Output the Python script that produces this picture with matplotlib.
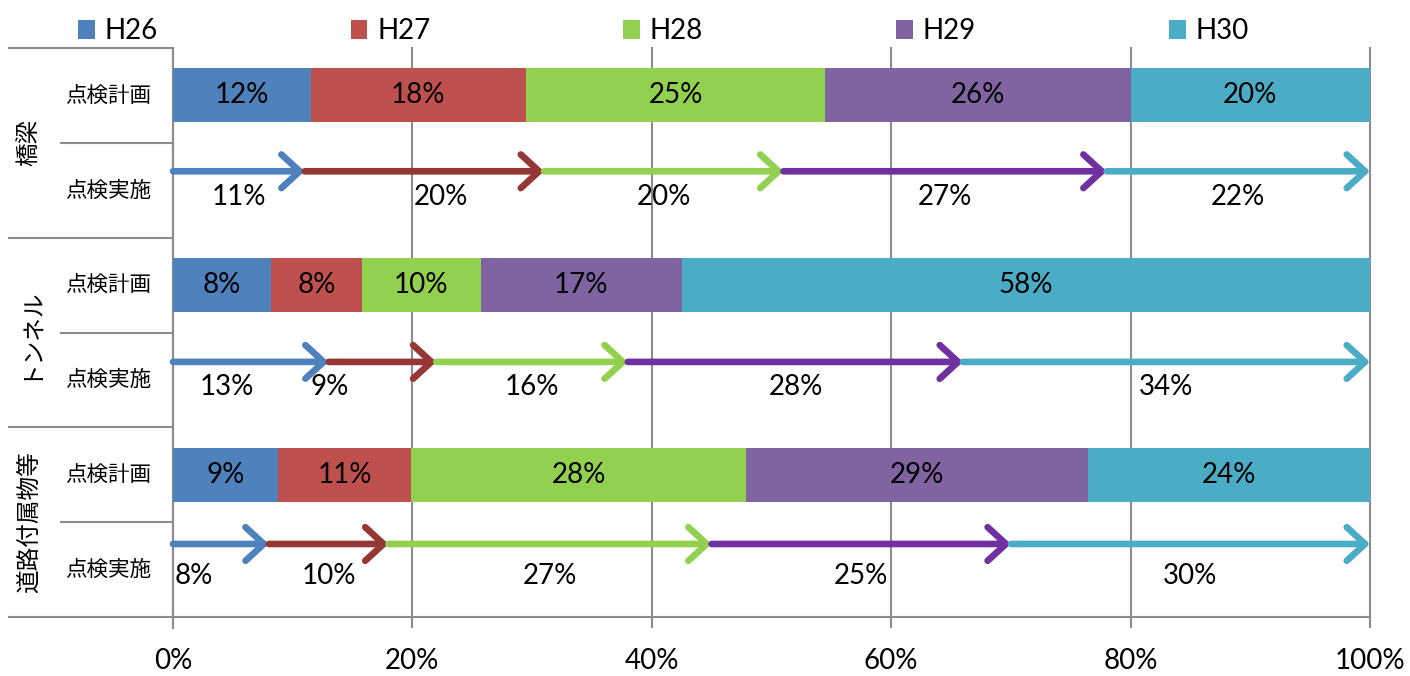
import numpy as np
import matplotlib.pyplot as plt
from matplotlib.lines import Line2D
from matplotlib.patches import Patch

plt.rcParams['font.family'] = ['Lato', 'Noto Sans CJK JP', 'DejaVu Sans']

# --- data ---
years = ['H26', 'H27', 'H28', 'H29', 'H30']
groups = ['橋梁', 'トンネル', '道路付属物等']
sub_labels = ['点検計画', '点検実施']

plan_bridge = [11.5, 18.0, 25.0, 25.5, 20.0]
plan_tunnel = [8.2, 7.6, 9.9, 16.8, 57.5]
plan_acc = [8.8, 11.1, 28.0, 28.5, 23.6]

impl_bridge = [11, 20, 20, 27, 22]
impl_tunnel = [13, 9, 16, 28, 34]
impl_acc = [8, 10, 27, 25, 30]

# --- style ---
bar_colors = ['#4F81BD', '#C0504D', '#92D050', '#8064A2', '#4BACC6']
arrow_colors = ['#4F81BD', '#953735', '#92D050', '#7030A0', '#4BACC6']
grid_col = '#8c8c8c'
arrow_dy = [-0.2, -0.19, -0.27]          # arrow offset from row centre
label_dx = [[0, 1.4, 0, 0, 0], [-2, -4.4, 0, 0, 0], [-2.3, 0, 0, 0, 0]]
txt_size = 20

plans = [plan_bridge, plan_tunnel, plan_acc]
impls = [impl_bridge, impl_tunnel, impl_acc]

fig = plt.figure(figsize=(14.1, 6.76), dpi=100)
ax = fig.add_axes([173 / 1410, 1 - 617 / 676, 1197 / 1410, 569 / 676])

for g in range(3):
    row = 2 * g
    # plan bar (stacked)
    left = 0.0
    for i, v in enumerate(plans[g]):
        ax.barh(row, v, left=left, height=0.57, color=bar_colors[i], zorder=3)
        ax.text(left + v / 2, row, f"{int(v + 0.5)}%", ha='center', va='center',
                fontsize=txt_size, color='black', zorder=4)
        left += v
    # implementation arrows
    cum = np.concatenate([[0], np.cumsum(impls[g])])
    y = row + 1 + arrow_dy[g]
    for i, v in enumerate(impls[g]):
        ax.annotate('', xy=(cum[i + 1], y), xytext=(cum[i], y),
                    arrowprops=dict(arrowstyle='->,head_length=0.6,head_width=0.55',
                                    color=arrow_colors[i], lw=4.8,
                                    shrinkA=0, shrinkB=0, mutation_scale=22),
                    zorder=5, annotation_clip=False)
        ax.text((cum[i] + cum[i + 1]) / 2 + label_dx[g][i], row + 1.07,
                f"{v}%", ha='center', va='center', fontsize=txt_size,
                color='black', zorder=4)

ax.set_xlim(0, 100)
ax.set_ylim(5.5, -0.5)
ax.set_yticks([])
ax.set_xticks(np.arange(0, 101, 20))
ax.set_xticklabels([f"{t}%" for t in range(0, 101, 20)], fontsize=txt_size)
ax.tick_params(axis='x', length=8, width=1.5, color=grid_col, pad=14)
ax.grid(axis='x', color=grid_col, lw=1.5, zorder=1, clip_on=False)
for s in ['top', 'right']:
    ax.spines[s].set_visible(False)
ax.spines['left'].set_color(grid_col)
ax.spines['left'].set_linewidth(1.5)
ax.spines['bottom'].set_color(grid_col)
ax.spines['bottom'].set_linewidth(1.5)

# left table lines and labels
tr = ax.get_yaxis_transform()
x_out, x_in = -0.137, -0.0936
for k in range(7):
    x0 = x_out if k % 2 == 0 else x_in
    ax.add_line(Line2D([x0, 0], [k - 0.5, k - 0.5], transform=tr, color=grid_col,
                       lw=1.5, clip_on=False))
ax.add_line(Line2D([0, 0], [5.5, 5.62], transform=tr, color=grid_col, lw=1.5,
                   clip_on=False))
for g, name in enumerate(groups):
    ax.text(-0.121, 2 * g + 0.5, name, transform=tr, rotation=90, ha='center',
            va='center', fontsize=17)
    for j, sl in enumerate(sub_labels):
        ax.text(-0.054, 2 * g + j, sl, transform=tr, ha='center', va='center',
                fontsize=15.5)

# legend
handles = [Patch(facecolor=c, label=y) for c, y in zip(bar_colors, years)]
fig.legend(handles=handles, loc='upper left', bbox_to_anchor=(60 / 1410, 1.0),
           ncol=5, frameon=False, fontsize=txt_size, handlelength=0.6,
           handleheight=0.7, handletextpad=0.35, columnspacing=6.95,
           borderaxespad=0.25)

fig.savefig('out.png', dpi=100)
